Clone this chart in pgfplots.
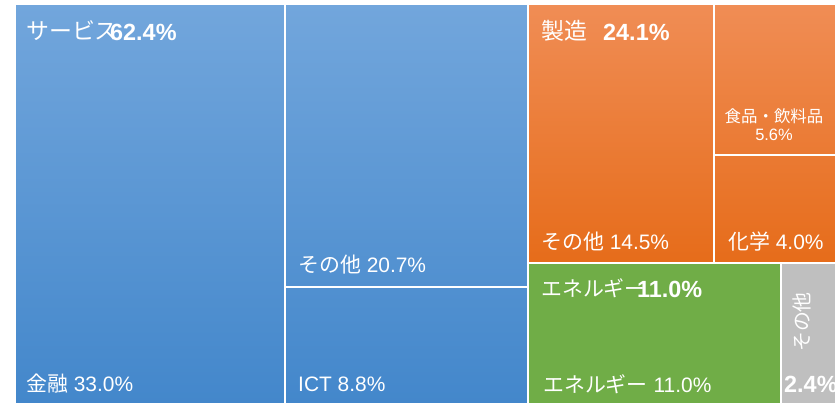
\documentclass[border=0pt]{standalone}
\usepackage{fontspec}
\setmainfont{Liberation Sans}
\newfontfamily\jp{Noto Sans CJK JP}
\usepackage{pgfplots}
\pgfplotsset{compat=1.18}
\definecolor{blueT}{HTML}{72A6DC}
\definecolor{blueB}{HTML}{4387CB}
\definecolor{orT}{HTML}{F08D55}
\definecolor{orB}{HTML}{E66C1A}
\definecolor{grn}{HTML}{70AD47}
\definecolor{gry}{HTML}{BFBFBF}
\begin{document}
\begin{tikzpicture}
\begin{axis}[width=835bp, height=403bp, scale only axis,
  xmin=0, xmax=835, ymin=0, ymax=403, y dir=reverse,
  hide axis, clip=true]
% background
\addplot[draw=none, fill=white] coordinates {(0,0) (835,0) (835,403) (0,403)} -- cycle;
% group fills
\addplot[draw=none, top color=blueT, bottom color=blueB] coordinates {(15,4) (528,4) (528,404) (15,404)} -- cycle;
\addplot[draw=none, top color=orT, bottom color=orB] coordinates {(528,4) (837,4) (837,263) (528,263)} -- cycle;
\addplot[draw=none, fill=grn] coordinates {(528,263) (781,263) (781,404) (528,404)} -- cycle;
\addplot[draw=none, fill=gry] coordinates {(781,263) (837,263) (837,404) (781,404)} -- cycle;
% leaf outlines
\addplot[draw=white, line width=1.5pt] coordinates {(15,4) (285,4) (285,406) (15,406)} -- cycle;
\addplot[draw=white, line width=1.5pt] coordinates {(285,4) (528,4) (528,287) (285,287)} -- cycle;
\addplot[draw=white, line width=1.5pt] coordinates {(285,287) (528,287) (528,406) (285,406)} -- cycle;
\addplot[draw=white, line width=1.5pt] coordinates {(528,4) (714,4) (714,263) (528,263)} -- cycle;
\addplot[draw=white, line width=1.5pt] coordinates {(714,4) (838,4) (838,155) (714,155)} -- cycle;
\addplot[draw=white, line width=1.5pt] coordinates {(714,155) (838,155) (838,263) (714,263)} -- cycle;
\addplot[draw=white, line width=1.5pt] coordinates {(528,263) (781,263) (781,406) (528,406)} -- cycle;
\addplot[draw=white, line width=1.5pt] coordinates {(781,263) (838,263) (838,406) (781,406)} -- cycle;
% labels
\begin{scope}[every node/.style={text=white, inner sep=0pt}]
\node[anchor=base west, font=\fontsize{23}{27}\selectfont] at (axis cs:26,39) {\jp サービス};
\node[anchor=base west, font=\fontsize{23.5}{27}\selectfont\bfseries] at (axis cs:110,40) {62.4\%};
\node[anchor=base west, font=\fontsize{23}{27}\selectfont] at (axis cs:541,39) {\jp 製造};
\node[anchor=base west, font=\fontsize{23.5}{27}\selectfont\bfseries] at (axis cs:603,40) {24.1\%};
\node[anchor=base west, font=\fontsize{21}{25}\selectfont] at (axis cs:541,296) {\jp エネルギー};
\node[anchor=base west, font=\fontsize{23.5}{27}\selectfont\bfseries] at (axis cs:637,297) {11.0\%};
\node[anchor=base west, font=\fontsize{21}{25}\selectfont] at (axis cs:298,272) {{\jp その他} 20.7\%};
\node[anchor=base west, font=\fontsize{21}{25}\selectfont] at (axis cs:26,391) {{\jp 金融} 33.0\%};
\node[anchor=base west, font=\fontsize{21}{25}\selectfont] at (axis cs:298,391) {ICT 8.8\%};
\node[anchor=base west, font=\fontsize{21}{25}\selectfont] at (axis cs:541,249) {{\jp その他} 14.5\%};
\node[anchor=base west, font=\fontsize{21}{25}\selectfont] at (axis cs:728,249) {{\jp 化学} 4.0\%};
\node[anchor=base, font=\fontsize{16.5}{19}\selectfont] at (axis cs:774,122) {\jp 食品・飲料品};
\node[anchor=base, font=\fontsize{16.5}{19}\selectfont] at (axis cs:774,140) {5.6\%};
\node[anchor=base west, font=\fontsize{21}{25}\selectfont] at (axis cs:543,392) {{\jp エネルギー} 11.0\%};
\node[rotate=90, font=\fontsize{20}{24}\selectfont] at (axis cs:802,322) {\jp その他};
\node[anchor=base west, font=\fontsize{23.5}{27}\selectfont\bfseries] at (axis cs:784,392) {2.4\%};
\end{scope}
\end{axis}
\end{tikzpicture}
\end{document}
